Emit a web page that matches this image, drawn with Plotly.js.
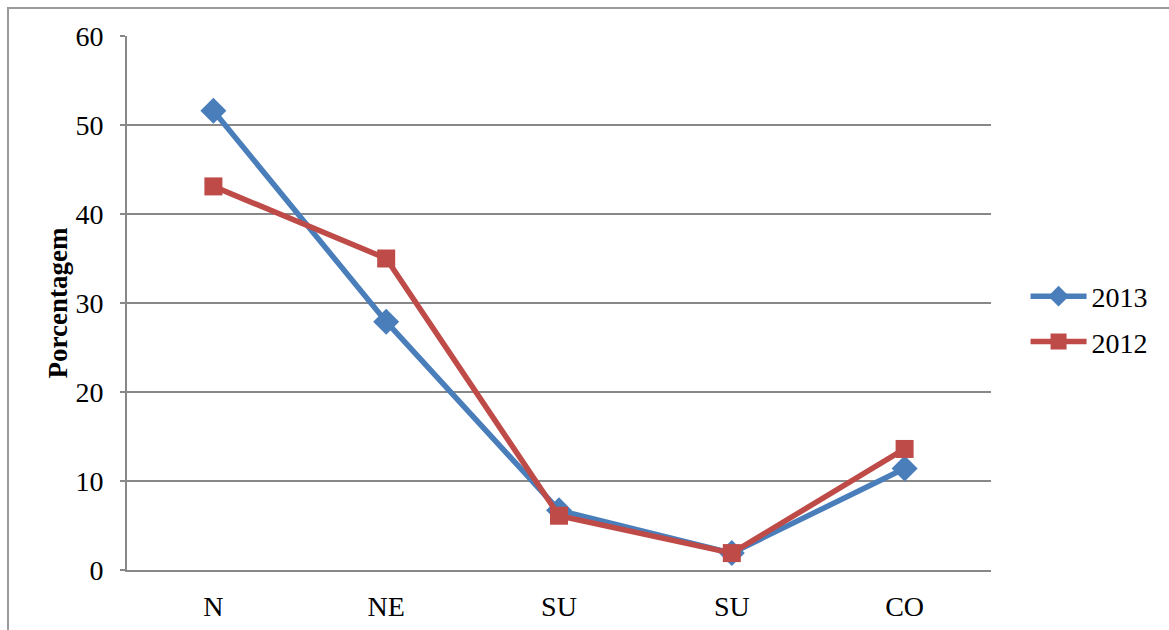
<!DOCTYPE html>
<html>
<head>
<meta charset="utf-8">
<script src="https://cdn.plot.ly/plotly-3.0.1.min.js"></script>
<style>
html,body{margin:0;padding:0;background:#fff;}
#frame{position:absolute;left:7px;top:7px;width:1200px;height:700px;border-left:2px solid #9a9a9a;border-top:2px solid #9a9a9a;}
#chart{position:absolute;left:0;top:0;width:1169px;height:630px;}
</style>
</head>
<body>
<div id="frame"></div>
<div id="chart"></div>
<script>
const categories = ["N", "NE", "SU", "SU", "CO"];
const series2013 = [51.6, 27.9, 6.7, 1.9, 11.4];
const series2012 = [43.1, 35.0, 6.1, 1.9, 13.6];
const yTicks = [0, 10, 20, 30, 40, 50, 60];

const xIdx = categories.map((c, i) => i);
const FONT = "'Liberation Serif', 'Times New Roman', serif";

const traces = [
  {x: xIdx, y: series2013, name: "2013", type: "scatter", mode: "lines+markers",
   legendgroup: "a",
   line: {color: "#4A7EBB", width: 5.5}, marker: {symbol: "diamond", size: 20, color: "#4A7EBB"}},
  {x: xIdx, y: series2012, name: "2012", type: "scatter", mode: "lines+markers",
   legendgroup: "b",
   line: {color: "#BE4B48", width: 5.5}, marker: {symbol: "square", size: 18, color: "#BE4B48"}}
];

const layout = {
  width: 1169, height: 630,
  margin: {l: 127, r: 178, t: 36, b: 60},
  paper_bgcolor: "rgba(0,0,0,0)",
  plot_bgcolor: "rgba(0,0,0,0)",
  font: {family: FONT, size: 28, color: "#000"},
  showlegend: true,
  legend: {x: 1.04, xanchor: "left", y: 0.47, yanchor: "middle",
           traceorder: "grouped", tracegroupgap: 6, itemwidth: 56, itemsizing: "trace",
           font: {family: FONT, size: 28, color: "#000"}, bgcolor: "rgba(0,0,0,0)"},
  xaxis: {
    range: [-0.5, 4.5], tickmode: "array", tickvals: xIdx, ticktext: categories,
    tickfont: {family: FONT, size: 28, color: "#000"},
    showgrid: false, zeroline: false, showline: true, linecolor: "#888", linewidth: 2,
    ticks: "", ticklabelstandoff: 10, fixedrange: true
  },
  yaxis: {
    range: [0, 60], tickmode: "array", tickvals: yTicks,
    tickfont: {family: FONT, size: 28, color: "#000"},
    showgrid: true, gridcolor: "#888", gridwidth: 2,
    zeroline: false, showline: true, linecolor: "#888", linewidth: 2,
    ticks: "outside", ticklen: 5, tickcolor: "#888", tickwidth: 2,
    ticklabelstandoff: 11,
    title: {text: "<b>Porcentagem</b>", font: {size: 27, family: FONT, color: "#000"}, standoff: 0},
    fixedrange: true
  }
};

Plotly.newPlot("chart", traces, layout, {displayModeBar: false, staticPlot: true});
</script>
</body>
</html>
